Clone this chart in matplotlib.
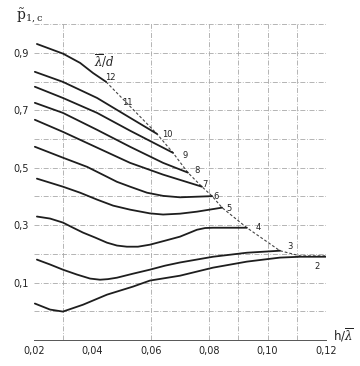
import matplotlib
matplotlib.use("Agg")
import matplotlib.pyplot as plt

plt.rcParams['mathtext.fontset'] = 'dejavuserif'

# curve data (lambda/d label -> (x, y))
c12_x = [0.021, 0.030, 0.0358, 0.0402, 0.0447]
c12_y = [0.931, 0.897, 0.865, 0.830, 0.799]
c10_x = [0.0203, 0.0299, 0.0416, 0.0529, 0.0621]
c10_y = [0.834, 0.799, 0.743, 0.674, 0.618]
c9_x = [0.0203, 0.0299, 0.0416, 0.0529, 0.0676]
c9_y = [0.782, 0.743, 0.691, 0.629, 0.552]
c8_x = [0.0203, 0.0299, 0.0416, 0.0529, 0.0642, 0.0727]
c8_y = [0.726, 0.691, 0.632, 0.573, 0.517, 0.483]
c7_x = [0.0203, 0.0299, 0.0416, 0.0529, 0.0642, 0.0775]
c7_y = [0.667, 0.625, 0.570, 0.517, 0.476, 0.434]
c6_x = [0.0203, 0.0299, 0.0382, 0.0443, 0.0484, 0.0529, 0.0587, 0.0642, 0.070, 0.081]
c6_y = [0.573, 0.535, 0.503, 0.472, 0.451, 0.434, 0.413, 0.402, 0.397, 0.401]
c5_x = [0.021, 0.0299, 0.0358, 0.0416, 0.0471, 0.0529, 0.0597, 0.0642, 0.070, 0.0758, 0.0844]
c5_y = [0.462, 0.434, 0.413, 0.389, 0.368, 0.354, 0.341, 0.337, 0.340, 0.347, 0.361]
c4_x = [0.021, 0.0255, 0.0299, 0.0334, 0.0368, 0.0409, 0.045, 0.0484, 0.0518, 0.0556,
        0.0597, 0.0649, 0.070, 0.0734, 0.0758, 0.0786, 0.0813, 0.0929]
c4_y = [0.330, 0.323, 0.309, 0.291, 0.274, 0.257, 0.239, 0.229, 0.225, 0.225,
        0.232, 0.246, 0.260, 0.274, 0.284, 0.290, 0.291, 0.291]
c3_x = [0.021, 0.0255, 0.0299, 0.0347, 0.0392, 0.0426, 0.0453, 0.0484, 0.0539, 0.0597,
        0.0649, 0.070, 0.0813, 0.0929, 0.1042]
c3_y = [0.180, 0.163, 0.145, 0.128, 0.114, 0.110, 0.112, 0.117, 0.131, 0.145,
        0.159, 0.170, 0.190, 0.204, 0.211]
c2_x = [0.0203, 0.0255, 0.0299, 0.0368, 0.045, 0.0539, 0.0597, 0.070, 0.0813, 0.0929, 0.1042, 0.1111, 0.12]
c2_y = [0.027, 0.006, -0.001, 0.023, 0.058, 0.086, 0.107, 0.124, 0.152, 0.173, 0.187, 0.190, 0.190]

curves = [("12", c12_x, c12_y), ("10", c10_x, c10_y), ("9", c9_x, c9_y),
          ("8", c8_x, c8_y), ("7", c7_x, c7_y), ("6", c6_x, c6_y),
          ("5", c5_x, c5_y), ("4", c4_x, c4_y), ("3", c3_x, c3_y), ("2", c2_x, c2_y)]

# envelope (dashed) through curve ends
env_x = [0.0447, 0.0621, 0.0676, 0.0727, 0.0775, 0.081, 0.0844, 0.0929, 0.1042, 0.1111, 0.12]
env_y = [0.799, 0.618, 0.552, 0.483, 0.434, 0.401, 0.361, 0.291, 0.211, 0.193, 0.193]

# label positions along the envelope
lab_text = ["12", "11", "10", "9", "8", "7", "6", "5", "4", "3", "2"]
lab_x = [0.0461, 0.0520, 0.0658, 0.0717, 0.0758, 0.0785, 0.0823, 0.0867, 0.0967, 0.1077, 0.1170]
lab_y = [0.814, 0.726, 0.614, 0.541, 0.489, 0.443, 0.399, 0.357, 0.293, 0.225, 0.155]

xticks = [0.02, 0.04, 0.06, 0.08, 0.10, 0.12]
xtick_labels = ["0,02", "0,04", "0,06", "0,08", "0,10", "0,12"]
yticks = [0.1, 0.3, 0.5, 0.7, 0.9]
ytick_labels = ["0,1", "0,3", "0,5", "0,7", "0,9"]
vgrid = [0.03, 0.06, 0.08, 0.09, 0.10, 0.11, 0.12]
hgrid = [0.0, 0.1, 0.2, 0.3, 0.4, 0.5, 0.6, 0.7, 0.8, 0.9, 1.0]

fig = plt.figure(figsize=(3.6, 3.66), dpi=100)
ax = fig.add_axes([0.0944, 0.071, 0.8112, 0.863])
ax.set_xlim(0.02, 0.12)
ax.set_ylim(-0.1, 1.0)

for g in vgrid:
    ax.axvline(g, color="#a8a8a8", lw=0.6, ls=(0, (6, 2, 1, 2)), zorder=1)
for g in hgrid:
    ax.axhline(g, color="#a8a8a8", lw=0.6, ls=(0, (6, 2, 1, 2)), zorder=1)

for name, xs, ys in curves:
    ax.plot(xs, ys, color="#1e1e1e", lw=1.3, solid_capstyle="round",
            solid_joinstyle="round", zorder=3)

ax.plot(env_x, env_y, color="#444444", lw=0.8, ls=(0, (2.5, 1.8)), zorder=2)

for t, x, y in zip(lab_text, lab_x, lab_y):
    ax.text(x, y, t, fontsize=6, color="#222222", ha="center", va="center", zorder=4)

ax.text(0.044, 0.872, r"$\overline{\lambda}/d$", fontsize=8.5, color="#222222",
        ha="center", va="center")

for s in ["top", "right", "left"]:
    ax.spines[s].set_visible(False)
ax.spines["bottom"].set_color("#555555")
ax.spines["bottom"].set_linewidth(0.7)

ax.set_xticks(xticks)
ax.set_xticklabels(xtick_labels, fontsize=7, color="#222222")
ax.set_yticks(yticks)
ax.set_yticklabels(ytick_labels, fontsize=7, color="#222222")
ax.tick_params(axis="both", length=0, pad=4)

fig.text(0.045, 0.955, r"$\tilde{\mathrm{p}}_{\mathrm{1,c}}$", fontsize=10, color="#222222",
         ha="left", va="center")
fig.text(0.925, 0.085, r"h/$\overline{\lambda}$", fontsize=8.5, color="#222222",
         ha="left", va="center")

fig.savefig("out.png", dpi=100, facecolor="white")
